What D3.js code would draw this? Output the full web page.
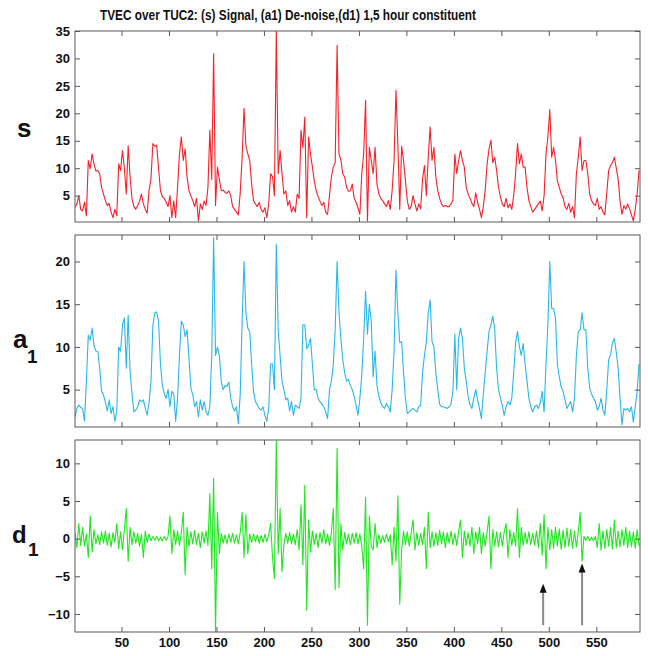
<!DOCTYPE html>
<html>
<head>
<meta charset="utf-8">
<script src="https://cdn.jsdelivr.net/npm/d3@7/dist/d3.min.js"></script>
<style>
  html, body { margin: 0; padding: 0; background: #ffffff; }
  svg text { font-family: "Liberation Sans", Arial, sans-serif; }
</style>
</head>
<body>
<div id="chart"></div>
<script>
// Sample spacing of the arrays below: one value every 2 samples, starting at sample 1
const sampleStep = 2;

// (s) raw signal
const sValues = [
  2.9, 3.5, 5.0, 2.5, 2.2, 3.8, 1.3, 11.4, 9.9, 12.6,
  10.8, 9.5, 9.6, 9.0, 6.5, 5.3, 4.1, 3.2, 3.6, 2.0,
  1.0, 2.5, 1.3, 10.8, 9.6, 13.2, 10.0, 5.3, 14.1, 8.4,
  4.5, 3.0, 2.5, 3.2, 4.0, 5.3, 3.5, 2.5, 1.8, 6.0,
  8.0, 14.5, 14.0, 14.2, 10.0, 5.9, 4.8, 4.5, 3.8, 3.0,
  5.0, 1.0, 4.0, 1.0, 6.5, 12.6, 15.7, 11.4, 13.5, 8.5,
  5.9, 5.0, 4.1, 3.0, 4.5, 0.4, 3.5, 2.5, 4.0, 3.2,
  6.5, 16.9, 8.0, 30.9, 3.2, 10.2, 8.0, 5.9, 6.0, 5.6,
  5.4, 5.9, 5.0, 3.0, 2.5, 2.0, 1.5, 5.5, 12.0, 20.9,
  14.0, 12.6, 11.4, 7.1, 4.1, 3.5, 3.0, 3.8, 2.5, 2.0,
  2.8, 1.0, 3.5, 9.0, 8.5, 5.0, 35.0, 9.0, 13.2, 9.0,
  5.3, 5.9, 3.2, 4.1, 2.0, 3.0, 2.0, 5.3, 4.5, 16.9,
  13.8, 19.3, 1.0, 15.7, 12.6, 10.2, 7.7, 5.9, 4.8, 4.0,
  3.2, 3.8, 2.0, 1.6, 5.0, 8.4, 10.2, 11.0, 32.4, 12.6,
  11.5, 9.0, 8.4, 6.5, 5.8, 5.9, 7.1, 4.5, 3.8, 2.8,
  1.6, 9.0, 12.6, 22.4, 0.4, 13.8, 11.4, 9.0, 13.8, 7.1,
  5.3, 4.5, 4.1, 3.5, 3.0, 4.1, 2.5, 6.0, 11.4, 24.2,
  14.5, 2.5, 14.0, 11.4, 7.7, 4.0, 2.5, 3.0, 5.0, 3.5,
  2.2, 3.5, 2.6, 8.0, 10.5, 5.0, 12.0, 17.5, 11.4, 13.8,
  8.4, 5.9, 4.5, 3.5, 3.0, 3.2, 3.0, 3.0, 3.5, 4.2,
  12.6, 9.0, 11.4, 13.2, 11.4, 10.2, 6.5, 5.3, 4.5, 3.6,
  3.0, 5.5, 3.8, 2.5, 1.0, 3.0, 6.0, 10.8, 13.5, 15.1,
  11.0, 12.0, 9.6, 6.5, 4.8, 3.5, 3.0, 4.5, 2.8, 3.5,
  2.5, 5.0, 9.0, 14.5, 10.8, 12.6, 10.2, 10.2, 6.5, 4.1,
  3.0, 2.0, 2.5, 3.0, 3.5, 4.0, 2.2, 5.0, 12.6, 15.7,
  20.7, 12.0, 13.8, 11.5, 7.7, 6.5, 5.3, 4.6, 3.0, 2.5,
  3.6, 2.0, 3.0, 1.0, 9.0, 12.0, 15.7, 9.6, 11.4, 11.4,
  9.0, 5.3, 4.1, 3.5, 3.2, 4.5, 2.5, 3.0, 2.0, 1.5,
  5.5, 9.6, 10.5, 11.0, 12.0, 10.0, 8.0, 4.0, 1.6, 3.2,
  2.5, 3.5, 2.6, 1.5, 0.4, 2.5, 5.3, 9.6
];

// (a1) de-noised approximation
const a1Values = [
  1.8, 2.8, 3.2, 2.9, 2.8, 1.3, 6.0, 11.4, 10.8, 12.2,
  10.2, 9.5, 9.5, 7.5, 4.8, 4.4, 3.5, 2.5, 3.8, 2.2,
  3.0, 1.3, 2.5, 10.0, 9.5, 12.6, 13.4, 7.5, 13.7, 7.1,
  4.6, 2.4, 2.6, 3.0, 3.8, 3.6, 3.8, 2.8, 2.0, 3.5,
  5.9, 12.5, 14.0, 14.1, 13.0, 8.0, 5.5, 4.5, 4.0, 5.0,
  3.0, 4.8, 4.5, 1.3, 4.0, 9.0, 13.0, 12.6, 11.2, 12.0,
  8.7, 5.2, 4.4, 3.0, 3.6, 1.8, 3.8, 2.6, 3.6, 2.4,
  2.0, 3.0, 9.0, 22.8, 9.0, 10.0, 9.0, 6.0, 5.0, 5.5,
  5.4, 5.9, 4.0, 3.0, 2.5, 3.0, 1.0, 4.5, 13.0, 20.0,
  14.0, 12.2, 11.8, 8.0, 4.8, 3.6, 3.2, 2.8, 2.6, 3.0,
  2.0, 1.3, 2.8, 8.0, 8.0, 5.0, 22.0, 12.0, 9.0, 6.0,
  5.0, 3.8, 4.0, 2.5, 3.6, 2.0, 3.2, 3.0, 2.8, 4.0,
  12.6, 12.6, 9.8, 10.2, 11.0, 8.0, 5.0, 5.0, 4.0, 3.6,
  3.3, 3.0, 2.4, 1.6, 5.0, 6.0, 7.9, 12.0, 20.0, 14.0,
  11.0, 8.5, 7.0, 6.0, 6.2, 5.5, 5.0, 4.2, 3.2, 2.0,
  4.0, 6.7, 11.0, 16.5, 11.5, 15.0, 13.0, 6.5, 9.5, 5.5,
  4.2, 3.5, 3.0, 2.8, 3.4, 3.0, 2.4, 5.0, 9.5, 19.0,
  14.0, 10.5, 10.6, 7.0, 4.0, 2.2, 2.4, 2.6, 2.8, 2.6,
  2.4, 3.0, 3.2, 7.0, 9.0, 10.6, 14.0, 15.5, 10.6, 10.0,
  7.0, 5.0, 3.3, 3.0, 3.0, 2.9, 2.8, 3.0, 3.3, 4.8,
  11.5, 5.0, 11.0, 12.2, 11.0, 7.5, 6.0, 4.2, 3.2, 2.8,
  4.0, 5.0, 3.8, 2.8, 1.6, 4.5, 7.0, 9.5, 11.8, 12.6,
  13.6, 12.0, 7.5, 5.0, 4.0, 3.2, 2.0, 3.0, 3.6, 3.2,
  4.0, 7.0, 10.5, 11.8, 10.0, 9.0, 10.4, 8.0, 6.0, 4.0,
  3.0, 2.4, 3.0, 3.2, 2.8, 3.5, 4.8, 2.4, 8.0, 12.6,
  20.0, 14.5, 14.5, 13.4, 8.0, 6.5, 5.3, 4.8, 3.8, 2.8,
  3.2, 3.6, 2.4, 4.0, 9.0, 11.8, 12.0, 14.0, 12.0, 12.0,
  7.5, 5.2, 4.5, 4.0, 3.6, 2.6, 3.0, 4.0, 2.6, 2.0,
  5.0, 8.5, 9.1, 10.5, 11.0, 9.4, 7.5, 4.0, 0.9, 2.8,
  2.6, 2.8, 2.4, 3.0, 1.2, 3.0, 4.8, 8.0
];

// (d1) 1,5 hour detail constituent
const d1Values = [
  0.8, -1.2, 2.0, -0.9, 1.5, -1.0, 0.6, -2.5, 3.0, -1.8,
  1.2, -0.7, 0.5, -0.8, 0.9, -0.6, 1.0, -0.9, 0.7, -1.1,
  0.8, -0.5, 2.0, -1.3, 0.9, -1.5, 1.2, 4.0, -3.0, 1.5,
  -0.8, 0.9, -0.6, 0.7, -1.0, 0.6, -2.5, 1.0, -0.5, 0.6,
  -0.3, 0.3, -0.2, 0.3, -0.3, 0.2, -0.3, 0.3, -0.2, 0.3,
  3.0, -2.0, 1.2, -0.8, 1.0, -0.9, 0.8, 3.5, -4.8, 1.5,
  -1.0, 0.9, -0.7, 1.1, -0.8, 0.7, -1.2, 0.9, -0.6, 1.0,
  -0.9, 6.0, -4.0, 8.0, -12.4, 3.5, -2.0, 0.7, -0.6, 0.5,
  -0.7, 0.6, -0.5, 0.7, -0.6, 0.5, -0.7, 0.8, 3.5, -2.5,
  3.2, -2.0, 0.6, -0.5, 0.6, -0.4, 0.5, -0.6, 0.4, -0.5,
  0.6, -0.4, 0.5, 2.0, -2.5, -5.3, 13.0, -2.0, 4.0, -4.4,
  -0.8, 0.7, -0.6, 0.8, -0.7, 0.6, -0.8, 1.2, -1.5, 4.5,
  -3.5, 7.1, -9.5, 2.5, -1.8, 1.0, -0.8, 0.7, -1.2, 0.8,
  -0.6, 1.2, -0.7, 0.6, -0.9, 0.8, 4.0, -6.8, 12.0, -6.5,
  2.0, -1.5, 0.8, -0.7, 0.6, -0.8, 0.7, -0.6, 0.8, -0.7,
  0.6, -1.0, -4.0, 5.5, -11.5, 3.0, -1.0, -1.5, 2.0, -1.2,
  0.5, -0.6, 0.4, -0.5, 0.6, -0.4, 0.5, -3.5, 1.5, -3.0,
  5.7, -8.7, -1.5, 1.0, -0.8, 0.9, -1.0, 0.7, 2.5, -1.5,
  0.8, -0.9, 0.7, -0.8, 1.5, -4.0, 3.5, -1.2, 0.9, -1.0,
  0.8, -0.9, 1.1, -0.7, 0.9, -1.2, 0.8, -0.6, 1.0, -0.8,
  0.7, -0.9, 1.0, 2.5, -2.5, 1.0, -0.9, 0.8, -1.0, 1.5,
  -2.0, 0.9, -0.7, 1.5, -2.0, 0.8, -1.0, 0.9, 3.0, -4.0,
  1.2, -1.0, 0.9, -1.1, 0.8, -1.0, 0.9, 2.0, -2.5, 1.2,
  -0.9, 0.8, -1.0, 4.0, -2.5, 1.5, -0.9, 0.8, -0.7, 0.9,
  -0.8, 0.7, -0.9, 1.0, -1.2, 2.0, -2.2, 3.2, -4.0, 1.5,
  -1.5, 1.2, -1.3, 1.5, -1.0, 1.3, -1.4, 1.1, -1.2, 1.4,
  -1.0, 1.2, -1.3, 1.0, -1.1, 0.9, 3.5, -3.0, 0.3, -0.2,
  0.3, -0.3, 0.2, -0.3, 0.3, -1.2, 2.0, -1.5, 1.0, -1.3,
  1.2, -1.0, 1.5, -1.4, 2.5, -1.2, 1.0, -1.1, 1.2, -0.9,
  1.5, -1.2, 1.0, -1.1, 0.9, -1.3, 1.2, -1.0
];

// Tick labels
const xTicks = [50, 100, 150, 200, 250, 300, 350, 400, 450, 500, 550];
const sTicks = [5, 10, 15, 20, 25, 30, 35];
const a1Ticks = [5, 10, 15, 20];
const d1Ticks = [-10, -5, 0, 5, 10];

// Arrows in the d1 panel (sample position, tip value)
const arrowSamples = [494, 535];
const arrowTips = [-6.0, -3.3];
const arrowBase = -11.5;

const titleText = 'TVEC over TUC2: (s) Signal, (a1) De-noise,(d1) 1,5 hour constituent';

const width = 648;
const height = 656;

const svg = d3.select('#chart')
  .append('svg')
  .attr('width', width)
  .attr('height', height)
  .style('background', '#ffffff');

// Shared sample axis
const x = d3.scaleLinear().domain([1, 596]).range([75, 640]);

const panels = [
  { id: 's', values: sValues, domain: [0.2, 35], top: 31, bottom: 222, ticks: sTicks, color: '#f5222a' },
  { id: 'a1', values: a1Values, domain: [0.63, 23.1], top: 235, bottom: 427, ticks: a1Ticks, color: '#2ab8ea' },
  { id: 'd1', values: d1Values, domain: [-12.4, 13.1], top: 440, bottom: 632, ticks: d1Ticks, color: '#22e622' }
];

const axisColor = '#5a5a5a';

panels.forEach((p, pi) => {
  const y = d3.scaleLinear().domain(p.domain).range([p.bottom, p.top]);
  p.y = y;
  const g = svg.append('g').attr('class', 'panel-' + p.id);

  // Clip the trace to the axes box
  svg.append('clipPath').attr('id', 'clip-' + p.id)
    .append('rect')
    .attr('x', x.range()[0]).attr('y', p.top)
    .attr('width', x.range()[1] - x.range()[0])
    .attr('height', p.bottom - p.top);

  const line = d3.line()
    .x((d, i) => x(1 + i * sampleStep))
    .y(d => y(d));

  g.append('path')
    .datum(p.values)
    .attr('clip-path', 'url(#clip-' + p.id + ')')
    .attr('fill', 'none')
    .attr('stroke', p.color)
    .attr('stroke-width', 1.1)
    .attr('stroke-linejoin', 'round')
    .attr('d', line);

  // Axes with inward ticks (MATLAB style)
  const styleAxis = sel => {
    sel.select('.domain').remove();
    sel.selectAll('.tick line').attr('stroke', axisColor);
    sel.selectAll('.tick text')
      .attr('fill', '#111')
      .style('font-size', '13px')
      .style('font-weight', 'bold');
  };

  g.append('g')
    .attr('transform', `translate(${x.range()[0]},0)`)
    .call(d3.axisLeft(y).tickValues(p.ticks).tickSize(-5).tickPadding(5))
    .call(styleAxis);

  g.append('g')
    .attr('transform', `translate(${x.range()[1]},0)`)
    .call(d3.axisRight(y).tickValues(p.ticks).tickSize(-5).tickFormat(''))
    .call(styleAxis);

  g.append('g')
    .attr('transform', `translate(0,${p.top})`)
    .call(d3.axisTop(x).tickValues(xTicks).tickSize(-5).tickFormat(''))
    .call(styleAxis);

  const bottomAxis = d3.axisBottom(x).tickValues(xTicks).tickSize(-5).tickPadding(6);
  if (pi < panels.length - 1) bottomAxis.tickFormat('');
  g.append('g')
    .attr('transform', `translate(0,${p.bottom})`)
    .call(bottomAxis)
    .call(styleAxis);

  // Box
  g.append('rect')
    .attr('x', x.range()[0]).attr('y', p.top)
    .attr('width', x.range()[1] - x.range()[0])
    .attr('height', p.bottom - p.top)
    .attr('fill', 'none')
    .attr('stroke', axisColor)
    .attr('stroke-width', 1);
});

// Title
svg.append('text')
  .attr('x', 288)
  .attr('y', 20)
  .attr('text-anchor', 'middle')
  .attr('textLength', 376)
  .attr('lengthAdjust', 'spacingAndGlyphs')
  .style('font-size', '15px')
  .style('font-weight', 'bold')
  .attr('fill', '#111')
  .text(titleText);

// Panel labels: s, a1, d1
const label = svg.append('g')
  .style('font-weight', 'bold')
  .attr('fill', '#111');

label.append('text')
  .attr('x', 17).attr('y', 137)
  .style('font-size', '26px')
  .text('s');

const aLab = label.append('text').attr('x', 13).attr('y', 348).style('font-size', '26px');
aLab.append('tspan').text('a');
aLab.append('tspan').attr('x', 27).attr('y', 363).style('font-size', '19px').text('1');

const dLab = label.append('text').attr('x', 12).attr('y', 543).style('font-size', '24px');
dLab.append('tspan').text('d');
dLab.append('tspan').attr('x', 28).attr('y', 556).style('font-size', '19px').text('1');

// Arrows in the d1 panel
const yd = panels[2].y;
const arrows = svg.append('g').attr('class', 'arrows');
arrowSamples.forEach((s, i) => {
  const ax = x(s);
  const tipY = yd(arrowTips[i]);
  arrows.append('line')
    .attr('x1', ax).attr('x2', ax)
    .attr('y1', yd(arrowBase)).attr('y2', tipY + 6)
    .attr('stroke', '#8a8a8a')
    .attr('stroke-width', 2);
  arrows.append('path')
    .attr('d', `M${ax},${tipY} L${ax - 3.5},${tipY + 9} L${ax + 3.5},${tipY + 9} Z`)
    .attr('fill', '#111');
});
</script>
</body>
</html>
